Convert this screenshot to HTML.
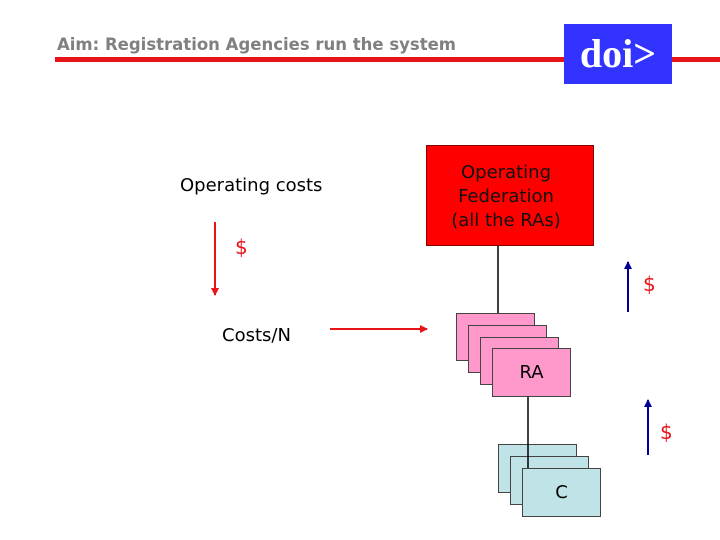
<!DOCTYPE html>
<html><head><style>
body{margin:0;width:720px;height:540px;background:#fff;position:relative;overflow:hidden;font-family:"DejaVu Sans","Liberation Sans",sans-serif}
.a{position:absolute}
.b{position:absolute;border:1px solid #444;box-sizing:border-box}
.p{background:#ff99cc}.c{background:#bfe3e6}
</style></head><body>
<div class="a" style="left:57px;top:35px;font-size:16.5px;font-weight:bold;color:#808080">Aim: Registration Agencies run the system</div>
<div class="a" style="left:55px;top:57px;width:665px;height:5px;background:#e8141a"></div>
<div class="a" style="left:564px;top:24px;width:108px;height:60px;background:#3333ff;color:#fff;font-family:'Liberation Serif',serif;font-weight:bold;font-size:40px;line-height:60px;text-align:center">doi&gt;</div>
<div class="a" style="left:180px;top:175px;font-size:18px">Operating costs</div>
<div class="a" style="left:426px;top:145px;width:168px;height:101px;background:#ff0000;border:1px solid #800;box-sizing:border-box;font-size:18px;text-align:center;line-height:24px;padding-top:15px;padding-right:8px;color:#111">Operating<br>Federation<br>(all the RAs)</div>
<div class="a" style="left:235px;top:235px;font-size:20px;color:#e8141a">$</div>
<div class="a" style="left:643px;top:272px;font-size:20px;color:#e8141a">$</div>
<div class="a" style="left:660px;top:420px;font-size:20px;color:#e8141a">$</div>
<div class="a" style="left:222px;top:325px;font-size:18px">Costs/N</div>
<svg class="a" style="left:0;top:0" width="720" height="540">
<defs><marker id="r" markerWidth="8" markerHeight="8" refX="7" refY="4" orient="auto" markerUnits="userSpaceOnUse"><path d="M0,0L8,4L0,8z" fill="#e8141a"/></marker>
<marker id="bl" markerWidth="8" markerHeight="8" refX="7" refY="4" orient="auto" markerUnits="userSpaceOnUse"><path d="M0,0L8,4L0,8z" fill="#000099"/></marker></defs>
<line x1="215" y1="222" x2="215" y2="295" stroke="#e8141a" stroke-width="2" marker-end="url(#r)"/>
<line x1="330" y1="329" x2="427" y2="329" stroke="#e8141a" stroke-width="2" marker-end="url(#r)"/>
<line x1="628" y1="312" x2="628" y2="262" stroke="#000099" stroke-width="2" marker-end="url(#bl)"/>
<line x1="648" y1="455" x2="648" y2="400" stroke="#000099" stroke-width="2" marker-end="url(#bl)"/>
<line x1="498" y1="246" x2="498" y2="317" stroke="#000" stroke-width="1.5"/>
</svg>
<div class="b p" style="left:456px;top:313px;width:79px;height:48px"></div>
<div class="b p" style="left:468px;top:325px;width:79px;height:48px"></div>
<div class="b p" style="left:480px;top:337px;width:79px;height:48px"></div>
<div class="b p" style="left:492px;top:348px;width:79px;height:49px;font-size:18px;text-align:center;line-height:48px">RA</div>
<div class="b c" style="left:498px;top:444px;width:79px;height:49px"></div>
<div class="b c" style="left:510px;top:456px;width:79px;height:49px"></div>
<svg class="a" style="left:0;top:0" width="720" height="540"><line x1="528" y1="397" x2="528" y2="468" stroke="#000" stroke-width="1.5"/></svg>
<div class="b c" style="left:522px;top:468px;width:79px;height:49px;font-size:18px;text-align:center;line-height:48px">C</div>
</body></html>
